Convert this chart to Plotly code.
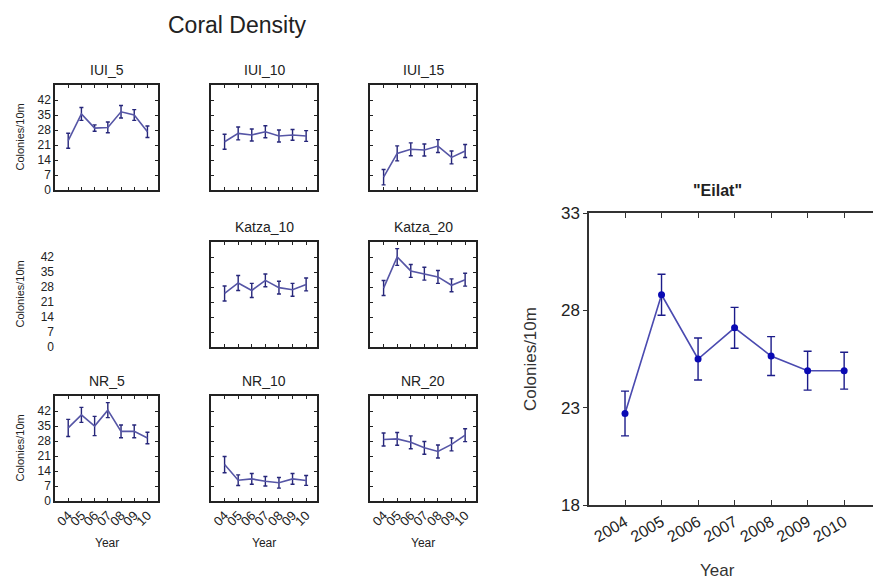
import plotly.graph_objects as go

W, H = 873, 581
FONT = "Liberation Sans, Arial, sans-serif"

years = [2004, 2005, 2006, 2007, 2008, 2009, 2010]
year_short = ["04", "05", "06", "07", "08", "09", "10"]
density_ticks = [0, 7, 14, 21, 28, 35, 42]

# Site means and error half-widths (colonies per 10 m)
iui_5 = [23.0, 35.5, 28.9, 29.2, 36.5, 35.0, 27.2]
iui_5_err = [3.5, 3.0, 1.5, 2.5, 2.9, 2.5, 2.7]
iui_10 = [22.5, 26.4, 25.7, 27.2, 25.2, 25.7, 25.2]
iui_10_err = [3.5, 3.0, 2.8, 2.8, 2.8, 2.5, 2.5]
iui_15 = [6.0, 17.1, 19.0, 18.7, 20.5, 15.2, 18.2]
iui_15_err = [3.6, 3.5, 3.0, 2.8, 3.0, 3.0, 3.0]
katza_10 = [25.0, 29.9, 26.4, 31.1, 27.7, 26.7, 29.2]
katza_10_err = [3.5, 3.5, 3.3, 3.0, 3.0, 3.0, 3.0]
katza_20 = [27.5, 42.0, 35.5, 34.2, 32.7, 28.8, 31.4]
katza_20_err = [3.5, 3.9, 3.0, 3.0, 3.0, 3.0, 3.0]
nr_5 = [34.1, 40.2, 35.0, 42.4, 32.5, 32.5, 29.4]
nr_5_err = [4.0, 3.5, 4.5, 3.5, 3.0, 3.0, 2.7]
nr_10 = [17.0, 9.7, 10.3, 9.2, 8.5, 10.3, 9.6]
nr_10_err = [3.8, 2.5, 2.5, 2.2, 2.5, 2.5, 2.3]
nr_20 = [28.7, 29.0, 27.4, 24.8, 23.1, 26.4, 30.7]
nr_20_err = [3.0, 3.0, 3.0, 3.0, 3.0, 3.0, 3.0]

eilat = [22.7, 28.8, 25.5, 27.1, 25.65, 24.9, 24.9]
eilat_err = [1.15, 1.05, 1.08, 1.05, 1.0, 1.0, 0.95]
eilat_ticks = [18, 23, 28, 33]

# (title, values, errors, row, col)
sites = [
    ("IUI_5", iui_5, iui_5_err, 0, 0),
    ("IUI_10", iui_10, iui_10_err, 0, 1),
    ("IUI_15", iui_15, iui_15_err, 0, 2),
    ("Katza_10", katza_10, katza_10_err, 1, 1),
    ("Katza_20", katza_20, katza_20_err, 1, 2),
    ("NR_5", nr_5, nr_5_err, 2, 0),
    ("NR_10", nr_10, nr_10_err, 2, 1),
    ("NR_20", nr_20, nr_20_err, 2, 2),
]

# pixel frames of the small panels
col_px = [(55, 158), (211, 317), (370, 476)]
row_px = [(85, 190), (242, 347), (396, 501)]


def xdom(a, b):
    return [a / W, b / W]


def ydom(top, bottom):
    return [1 - bottom / H, 1 - top / H]


def label(text, px, py, size, angle=0, color="#222"):
    return dict(
        text=text, x=px / W, y=1 - py / H, xref="paper", yref="paper",
        xanchor="center", yanchor="middle", textangle=angle, showarrow=False,
        font=dict(size=size, family=FONT, color=color),
    )


LINE = "#5656a6"
ERR = "#26267a"

fig = go.Figure()
layout = {}
annotations = []

idx = 0
for title, vals, errs, r, c in sites:
    idx += 1
    xa = "x" if idx == 1 else f"x{idx}"
    ya = "y" if idx == 1 else f"y{idx}"
    fig.add_trace(go.Scatter(
        x=years, y=vals, mode="lines",
        line=dict(color=LINE, width=1.6),
        error_y=dict(type="data", array=errs, visible=True,
                     color=ERR, thickness=1.4, width=2),
        xaxis=xa, yaxis=ya, showlegend=False, hoverinfo="skip",
    ))
    xkey = "xaxis" if idx == 1 else f"xaxis{idx}"
    ykey = "yaxis" if idx == 1 else f"yaxis{idx}"
    layout[xkey] = dict(
        domain=xdom(*col_px[c]), anchor=ya, range=[2003.0, 2010.8],
        tickvals=years, ticktext=year_short, showticklabels=(r == 2),
        tickangle=-45, tickfont=dict(size=13, family=FONT, color="#222"),
        ticks="inside", ticklen=3, tickcolor="#222", tickwidth=1,
        showline=True, linecolor="#222", linewidth=1.5, mirror="ticks",
        showgrid=False, zeroline=False, fixedrange=True, automargin=False,
    )
    layout[ykey] = dict(
        domain=ydom(*row_px[r]), anchor=xa, range=[0, 49],
        tickvals=density_ticks, showticklabels=(c == 0),
        tickfont=dict(size=12, family=FONT, color="#222"),
        ticks="inside", ticklen=3, tickcolor="#222", tickwidth=1,
        showline=True, linecolor="#222", linewidth=1.5, mirror="ticks",
        showgrid=False, zeroline=False, fixedrange=True, automargin=False,
    )
    cx = (col_px[c][0] + col_px[c][1]) / 2
    annotations.append(label(title, cx, row_px[r][0] - 15, 14))

# empty middle-left slot: only the density scale is drawn
idx += 1
fig.add_trace(go.Scatter(x=[None], y=[None], xaxis=f"x{idx}", yaxis=f"y{idx}",
                         showlegend=False, hoverinfo="skip"))
layout[f"xaxis{idx}"] = dict(domain=xdom(*col_px[0]), anchor=f"y{idx}",
                             range=[2003.0, 2010.8], visible=False,
                             fixedrange=True, automargin=False)
layout[f"yaxis{idx}"] = dict(
    domain=ydom(*row_px[1]), anchor=f"x{idx}", range=[0, 49],
    tickvals=density_ticks, showline=False, ticks="", showgrid=False,
    zeroline=False, tickfont=dict(size=12, family=FONT, color="#222"),
    fixedrange=True, automargin=False,
)

# y titles for each row and x titles under the bottom row
for r in range(3):
    cy = (row_px[r][0] + row_px[r][1]) / 2
    annotations.append(label("Colonies/10m", 19, cy, 11, angle=-90))
for c in range(3):
    cx = (col_px[c][0] + col_px[c][1]) / 2
    annotations.append(label("Year", cx, 543, 12))

annotations.append(label("Coral Density", 238, 25, 23))

# regional summary panel
idx += 1
fig.add_trace(go.Scatter(
    x=years, y=eilat, mode="lines+markers",
    line=dict(color="#4a4ab0", width=1.6),
    marker=dict(color="#0a0ab4", size=7),
    error_y=dict(type="data", array=eilat_err, visible=True,
                 color="#1c1c8a", thickness=1.4, width=4),
    xaxis=f"x{idx}", yaxis=f"y{idx}", showlegend=False, hoverinfo="skip",
))
layout[f"xaxis{idx}"] = dict(
    domain=[589 / W, 1.0], anchor=f"y{idx}", range=[2003.014, 2010.79],
    tickvals=years, tickangle=-30,
    tickfont=dict(size=16, family=FONT, color="#222"),
    ticks="inside", ticklen=5, tickcolor="#333", tickwidth=1,
    showline=True, linecolor="#333", linewidth=1.5, mirror="ticks",
    showgrid=False, zeroline=False, fixedrange=True, automargin=False,
)
layout[f"yaxis{idx}"] = dict(
    domain=ydom(213, 505), anchor=f"x{idx}", range=[18, 33],
    tickvals=eilat_ticks, tickfont=dict(size=17, family=FONT, color="#222"),
    ticks="outside", ticklen=4, tickcolor="#333", tickwidth=1,
    showline=True, linecolor="#333", linewidth=1.5, mirror=False,
    showgrid=False, zeroline=False, fixedrange=True, automargin=False,
)
annotations.append(label("<b>\"Eilat\"</b>", 717, 190, 16))
annotations.append(label("Colonies/10m", 530, 359, 17, angle=-90, color="#333"))
annotations.append(label("Year", 717, 570, 17, color="#333"))

fig.update_layout(
    width=W, height=H, margin=dict(l=0, r=0, t=0, b=0, autoexpand=False),
    paper_bgcolor="white", plot_bgcolor="white",
    annotations=annotations, **layout,
)

fig.write_html("out.html")
